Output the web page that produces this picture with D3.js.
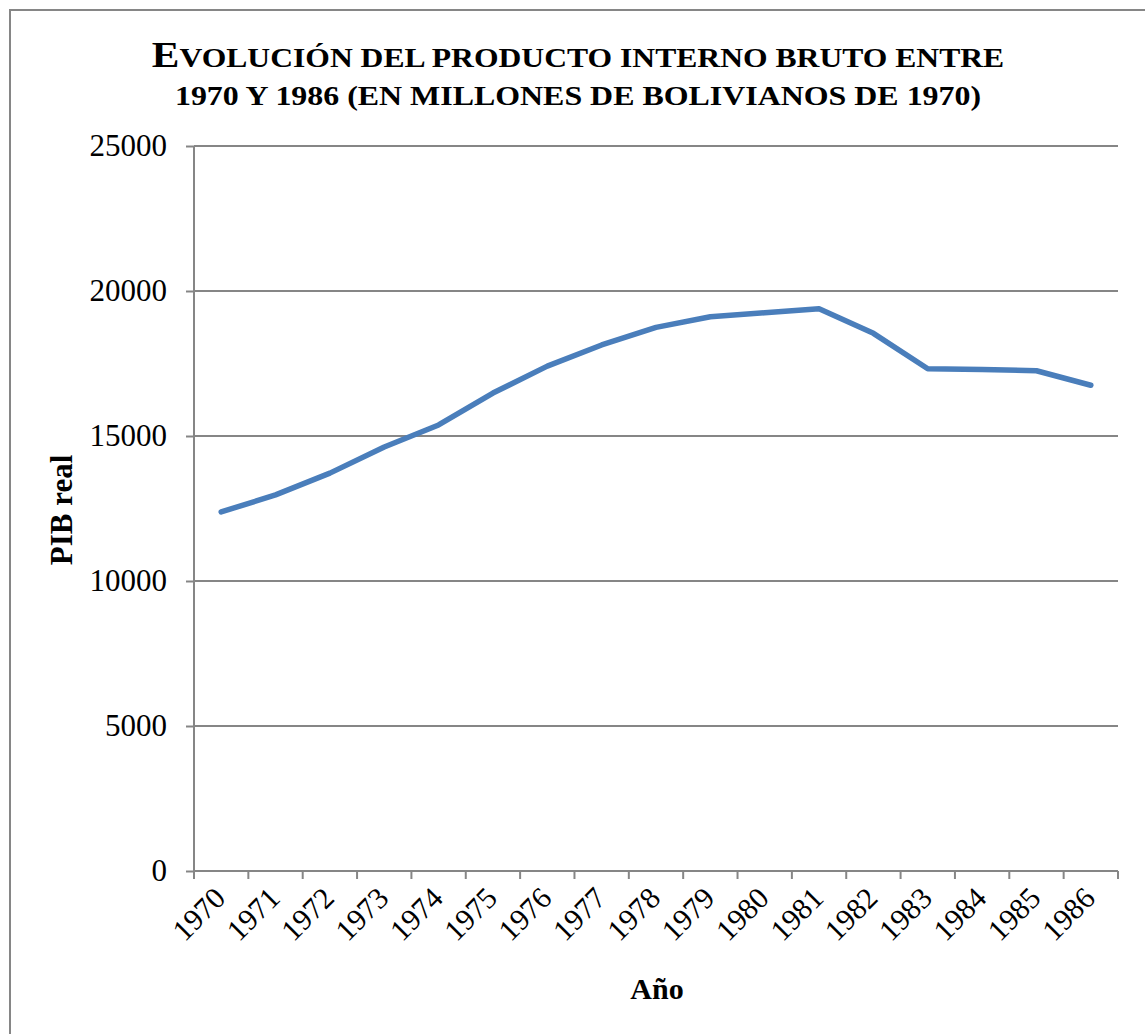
<!DOCTYPE html>
<html>
<head>
<meta charset="utf-8">
<script src="https://cdn.jsdelivr.net/npm/d3@7"></script>
<style>
  body { margin: 0; background: #fff; }
  text { font-family: "Liberation Serif", "Times New Roman", serif; fill: #000; }
</style>
</head>
<body>
<script>
// données
const annees = ["1970","1971","1972","1973","1974","1975","1976","1977","1978",
                "1979","1980","1981","1982","1983","1984","1985","1986"];
const pib = [12380, 12970, 13720, 14620, 15380, 16480, 17410, 18140, 18745,
             19110, 19250, 19390, 18540, 17320, 17290, 17250, 16750];
const ticksY = [0, 5000, 10000, 15000, 20000, 25000];

const largeur = 1145, hauteur = 1034;
const marge = { gauche: 194, droite: 1118, haut: 146, bas: 871 };
const gris = "#868686";
const taillePolice = 31;

const svg = d3.select("body").append("svg")
    .attr("width", largeur)
    .attr("height", hauteur);

// cadre du graphique
svg.append("rect")
    .attr("x", 10).attr("y", 10)
    .attr("width", largeur).attr("height", hauteur)
    .attr("fill", "none").attr("stroke", gris).attr("stroke-width", 2);

const x = d3.scaleBand().domain(annees).range([marge.gauche, marge.droite]);
const y = d3.scaleLinear().domain([0, 25000]).range([marge.bas, marge.haut]);

// lignes de la grille
svg.append("g").selectAll("line")
    .data(ticksY.filter(d => d > 0))
    .join("line")
    .attr("x1", marge.gauche).attr("x2", marge.droite)
    .attr("y1", d => y(d)).attr("y2", d => y(d))
    .attr("stroke", gris).attr("stroke-width", 2);

// axe Y
const axeY = svg.append("g")
    .attr("transform", `translate(${marge.gauche},0)`)
    .call(d3.axisLeft(y).tickValues(ticksY).tickSize(8).tickPadding(19).tickFormat(d3.format("d")));
axeY.select(".domain").attr("stroke", gris).attr("stroke-width", 2).attr("d", `M0,${marge.haut}V${marge.bas}`);
axeY.selectAll(".tick line").attr("stroke", gris).attr("stroke-width", 2);
axeY.selectAll(".tick text")
    .style("font-family", "Liberation Serif")
    .style("font-size", taillePolice + "px")
    .attr("fill", "#000");

// axe X (graduations entre les catégories)
const bornes = annees.map(a => x(a)).concat([marge.droite]);
svg.append("line")
    .attr("x1", marge.gauche).attr("x2", marge.droite)
    .attr("y1", marge.bas).attr("y2", marge.bas)
    .attr("stroke", gris).attr("stroke-width", 2);
svg.append("g").selectAll("line")
    .data(bornes)
    .join("line")
    .attr("x1", d => d).attr("x2", d => d)
    .attr("y1", marge.bas).attr("y2", marge.bas + 8)
    .attr("stroke", gris).attr("stroke-width", 2);

svg.append("g").selectAll("text")
    .data(annees)
    .join("text")
    .attr("transform", d => `translate(${x(d) + x.bandwidth() / 2 + 6},${marge.bas + 29}) rotate(-45)`)
    .attr("text-anchor", "end")
    .style("font-size", "30px")
    .text(d => d);

// la courbe
const ligne = d3.line()
    .x((d, i) => x(annees[i]) + x.bandwidth() / 2)
    .y(d => y(d));

svg.append("path")
    .datum(pib)
    .attr("d", ligne)
    .attr("fill", "none")
    .attr("stroke", "#4a7ebb")
    .attr("stroke-width", 5.5)
    .attr("stroke-linejoin", "round")
    .attr("stroke-linecap", "round");

// titre (petites capitales, un peu étiré en largeur)
const titre1 = svg.append("text")
    .attr("transform", "translate(578,67) scale(1.15,1)")
    .attr("text-anchor", "middle")
    .style("font-weight", "bold");
titre1.append("tspan").style("font-size", "36px").text("E");
titre1.append("tspan").style("font-size", "27.5px").text("VOLUCIÓN DEL PRODUCTO INTERNO BRUTO ENTRE");

svg.append("text")
    .attr("transform", "translate(578,105) scale(1.14,1)")
    .attr("text-anchor", "middle")
    .style("font-weight", "bold")
    .style("font-size", "28px")
    .text("1970 Y 1986 (EN MILLONES DE BOLIVIANOS DE 1970)");

// titres des axes
svg.append("text")
    .attr("transform", "translate(72,510) rotate(-90)")
    .attr("text-anchor", "middle")
    .style("font-weight", "bold")
    .style("font-size", "31px")
    .text("PIB real");

svg.append("text")
    .attr("x", 657).attr("y", 999)
    .attr("text-anchor", "middle")
    .style("font-weight", "bold")
    .style("font-size", "30px")
    .text("Año");
</script>
</body>
</html>
